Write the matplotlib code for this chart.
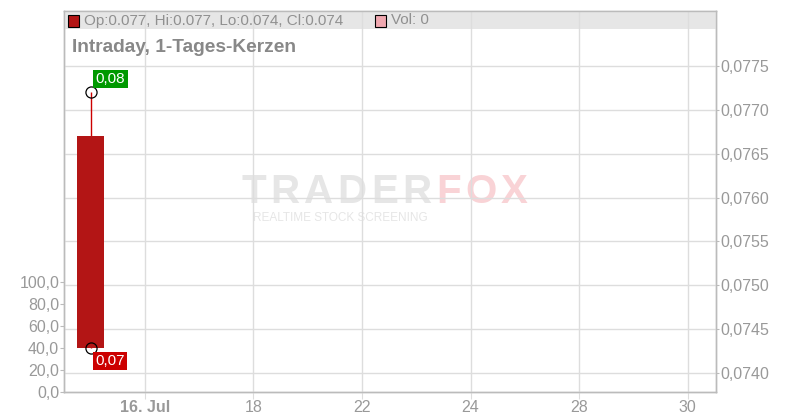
import matplotlib
matplotlib.use("Agg")
import matplotlib.pyplot as plt
from matplotlib.patches import Rectangle

plt.rcParams['font.family'] = ['Liberation Sans', 'DejaVu Sans']

# trading days (July), only weekdays
days = [15, 16, 17, 18, 21, 22, 23, 24, 25, 28, 29, 30]
tick_idx = [1, 3, 5, 7, 9, 11]
tick_labels = ['16. Jul', '18', '22', '24', '28', '30']

# one daily candle
c_open = [0.07670]
c_high = [0.07720]
c_low = [0.07429]
c_close = [0.07429]
volume = [0]

price_ticks = [0.0740, 0.0745, 0.0750, 0.0755, 0.0760, 0.0765, 0.0770, 0.0775]
vol_ticks = [0, 20, 40, 60, 80, 100]

W, H = 800, 420
fig = plt.figure(figsize=(8, 4.2), dpi=100)

def fx(x):
    return x / W

def fy(y):
    return 1 - y / H

ax = fig.add_axes([fx(64), fy(392), fx(716) - fx(64), fy(11) - fy(392)])
vol = ax.twinx()
ax.set_zorder(2)
ax.patch.set_visible(False)
vol.set_zorder(1)

grid_c = '#dddddd'
tick_c = '#999999'
spine_c = '#bbbbbb'

ax.set_xlim(-0.49, 11.52)
ax.set_ylim(0.073783, 0.078129)
vol.set_ylim(0, 346)

# price axis on the right, volume on the left
ax.yaxis.tick_right()
ax.yaxis.set_label_position('right')
vol.yaxis.tick_left()
vol.yaxis.set_label_position('left')

ax.set_yticks(price_ticks)
ax.set_yticklabels([f"{v:.4f}".replace('.', ',') for v in price_ticks])
vol.set_yticks(vol_ticks)
vol.set_yticklabels([f"{v:.1f}".replace('.', ',') for v in vol_ticks])
ax.set_xticks(tick_idx)
ax.set_xticklabels(tick_labels)
ax.get_xticklabels()[0].set_fontweight('bold')

ax.tick_params(axis='y', colors=spine_c, labelcolor=tick_c, labelsize=11.5, length=2.5, pad=0.8)
vol.tick_params(axis='y', colors=spine_c, labelcolor=tick_c, labelsize=11.5, length=3, pad=0.5)
ax.tick_params(axis='x', colors=grid_c, labelcolor=tick_c, labelsize=11.5, length=5, pad=0.5)

ax.grid(True, color=grid_c, linewidth=1)
ax.set_axisbelow(True)
for a in (ax, vol):
    for s in a.spines.values():
        s.set_color(spine_c)
        s.set_linewidth(1)

# gray header band inside the plot
ax.add_patch(Rectangle((0, 1 - 18 / 381), 1, 18 / 381, transform=ax.transAxes,
                       facecolor='#e6e6e6', edgecolor='none', zorder=0.1))

# volume bars (zero)
vol.bar([0], volume, width=0.5, color='#f0a0a8')

# candle
for i in range(len(c_open)):
    ax.vlines(i, c_low[i], c_high[i], color='#cc0000', linewidth=1, zorder=3)
    top = max(c_open[i], c_close[i])
    bot = min(c_open[i], c_close[i])
    ax.bar(i, top - bot, bottom=bot, width=0.5, color='#b31515', zorder=4)
    ax.plot([i, i], [c_high[i], c_low[i]], linestyle='none', marker='o', markersize=8,
            markerfacecolor='none', markeredgecolor='black', markeredgewidth=0.9, zorder=5)
    ax.annotate(f"{c_high[i]:.2f}".replace('.', ','), (i, c_high[i]), xytext=(5, 13.5),
                textcoords='offset pixels', ha='left', va='center', color='white', fontsize=11,
                bbox=dict(boxstyle='square,pad=0.15', facecolor='#009900', edgecolor='none'), zorder=6)
    ax.annotate(f"{c_low[i]:.2f}".replace('.', ','), (i, c_low[i]), xytext=(5, -13.5),
                textcoords='offset pixels', ha='left', va='center', color='white', fontsize=11,
                bbox=dict(boxstyle='square,pad=0.15', facecolor='#cc0000', edgecolor='none'), zorder=6)

# header texts
fig.patches.append(Rectangle((fx(68), fy(27)), fx(11), fy(15) - fy(27), transform=fig.transFigure,
                             facecolor='#b31515', edgecolor='black', linewidth=0.8, zorder=5))
fig.text(fx(84), fy(20.5), f"Op:{c_open[0]:.3f}, Hi:{c_high[0]:.3f}, Lo:{c_low[0]:.3f}, Cl:{c_close[0]:.3f}",
         color='#909090', fontsize=11, va='center', ha='left', zorder=5)
fig.patches.append(Rectangle((fx(375), fy(27)), fx(11), fy(15) - fy(27), transform=fig.transFigure,
                             facecolor='#f0a8b0', edgecolor='black', linewidth=0.8, zorder=5))
fig.text(fx(391), fy(20.5), f"Vol: {volume[0]}", color='#909090', fontsize=11, va='center', ha='left', zorder=5)
fig.text(fx(72), fy(47), "Intraday, 1-Tages-Kerzen", color='#888888', fontsize=13.8,
         fontweight='bold', va='center', ha='left', zorder=5)

# watermark, letter-spaced
renderer = fig.canvas.get_renderer()
xpos = 241
for word, col in (("TRADER", '#e6e6e6'), ("FOX", '#f9d3d6')):
    for ch in word:
        t = fig.text(fx(xpos), fy(192), ch, color=col, fontsize=29, fontweight='bold',
                     ha='left', va='center', zorder=0.5)
        xpos += t.get_window_extent(renderer).width + 4.5
fig.text(fx(340), fy(218), "REALTIME STOCK SCREENING", color='#e6e6e6', fontsize=8.5,
         ha='center', va='center', zorder=0.5)

fig.savefig('out.png', dpi=100)
